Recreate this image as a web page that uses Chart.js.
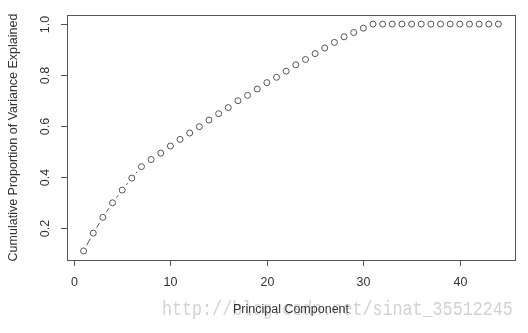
<!DOCTYPE html>
<html>
<head>
<meta charset="utf-8">
<script src="https://cdn.jsdelivr.net/npm/chart.js@4.4.1/dist/chart.umd.min.js"></script>
<style>
  html, body { margin: 0; padding: 0; background: #fff; }
  #wrap { position: relative; width: 528px; height: 333px; }
</style>
</head>
<body>
<div id="wrap"><canvas id="chart" width="528" height="333"></canvas></div>
<script>
// Cumulative proportion of variance explained by each principal component (R base-graphics look)
const components = [];
for (let i = 1; i <= 44; i++) components.push(i);

const cumVar = [
    0.109, 0.179, 0.241, 0.298, 0.348, 0.395, 0.440, 0.468, 0.493, 0.521,
    0.547, 0.572, 0.597, 0.623, 0.648, 0.672, 0.699, 0.720, 0.745, 0.770,
    0.791, 0.815, 0.840, 0.861, 0.884, 0.906, 0.928, 0.950, 0.967, 0.984,
    1.000, 1.000, 1.000, 1.000, 1.000, 1.000, 1.000, 1.000, 1.000, 1.000,
    1.000, 1.000, 1.000, 1.000
];

const xTicks = [0, 10, 20, 30, 40];
const yTicks = [0.2, 0.4, 0.6, 0.8, 1.0];
const yTickLabels = ['0.2', '0.4', '0.6', '0.8', '1.0'];

const FONT = '"Liberation Sans", Arial, sans-serif';
const INK = '#333';
const BOX = '#555';

// R style: segments between points with a gap around each point (type = "b")
const gappedLines = {
    id: 'gappedLines',
    afterDatasetsDraw: function (chart) {
        const ctx = chart.ctx;
        const pts = chart.getDatasetMeta(0).data;
        const gap = 6.5;
        ctx.save();
        ctx.strokeStyle = BOX;
        ctx.lineWidth = 1;
        for (let i = 0; i < pts.length - 1; i++) {
            const a = pts[i], b = pts[i + 1];
            const dx = b.x - a.x, dy = b.y - a.y;
            const d = Math.sqrt(dx * dx + dy * dy);
            if (d <= 2 * gap) continue;
            const ux = dx / d, uy = dy / d;
            ctx.beginPath();
            ctx.moveTo(a.x + ux * gap, a.y + uy * gap);
            ctx.lineTo(b.x - ux * gap, b.y - uy * gap);
            ctx.stroke();
        }
        ctx.restore();
    }
};

// box, tick marks, tick labels, axis titles and the watermark
const rAxes = {
    id: 'rAxes',
    beforeDatasetsDraw: function (chart) {
        const ctx = chart.ctx;
        // watermark sits behind everything
        ctx.save();
        ctx.fillStyle = '#d2d2d2';
        ctx.font = '20px "Liberation Mono", "DejaVu Sans Mono", monospace';
        ctx.textBaseline = 'middle';
        ctx.textAlign = 'left';
        ctx.translate(162, 310);
        ctx.scale(0.835, 1);
        ctx.fillText('http://blog.csdn.net/sinat_35512245', 0, 0);
        ctx.restore();
    },
    afterDraw: function (chart) {
        const ctx = chart.ctx;
        const a = chart.chartArea;
        const xs = chart.scales.x, ys = chart.scales.y;
        ctx.save();
        ctx.strokeStyle = BOX;
        ctx.lineWidth = 1;
        ctx.strokeRect(Math.round(a.left) + 0.5, Math.round(a.top) + 0.5,
            Math.round(a.right - a.left), Math.round(a.bottom - a.top));

        ctx.font = '12.5px ' + FONT;
        ctx.fillStyle = INK;

        // x axis
        ctx.textAlign = 'center';
        ctx.textBaseline = 'middle';
        xTicks.forEach(function (v) {
            const px = Math.round(xs.getPixelForValue(v)) + 0.5;
            ctx.beginPath();
            ctx.moveTo(px, a.bottom);
            ctx.lineTo(px, a.bottom + 6);
            ctx.stroke();
            ctx.fillText(String(v), px, a.bottom + 23);
        });

        // y axis, labels read bottom to top
        yTicks.forEach(function (v, i) {
            const py = Math.round(ys.getPixelForValue(v)) + 0.5;
            ctx.beginPath();
            ctx.moveTo(a.left, py);
            ctx.lineTo(a.left - 6, py);
            ctx.stroke();
            ctx.save();
            ctx.translate(a.left - 21, py);
            ctx.rotate(-Math.PI / 2);
            ctx.fillText(yTickLabels[i], 0, 0);
            ctx.restore();
        });

        // titles
        ctx.fillText('Principal Component', (a.left + a.right) / 2, 310);
        ctx.save();
        ctx.translate(13.5, (a.top + a.bottom) / 2);
        ctx.rotate(-Math.PI / 2);
        ctx.fillText('Cumulative Proportion of Variance Explained', 0, 0);
        ctx.restore();
        ctx.restore();
    }
};

const yMin = 0.109 - 0.891 * 0.04;
const yMax = 1.0 + 0.891 * 0.04;

new Chart(document.getElementById('chart').getContext('2d'), {
    type: 'scatter',
    data: {
        datasets: [{
            data: components.map(function (c, i) { return { x: c, y: cumVar[i] }; }),
            pointStyle: 'circle',
            pointRadius: 3,
            pointBorderWidth: 1,
            pointBorderColor: BOX,
            pointBackgroundColor: 'rgba(0,0,0,0)',
            showLine: false
        }]
    },
    options: {
        responsive: false,
        animation: false,
        events: [],
        layout: { padding: { top: 15, right: 13, left: 0, bottom: 0 } },
        plugins: { legend: { display: false }, tooltip: { enabled: false } },
        scales: {
            x: {
                type: 'linear',
                min: -0.72,
                max: 45.72,
                grid: { display: false },
                border: { display: false },
                ticks: { display: false },
                afterBuildTicks: function (s) { s.ticks = xTicks.map(function (v) { return { value: v }; }); },
                afterFit: function (s) { s.height = 73; }
            },
            y: {
                type: 'linear',
                min: yMin,
                max: yMax,
                grid: { display: false },
                border: { display: false },
                ticks: { display: false },
                afterBuildTicks: function (s) { s.ticks = yTicks.map(function (v) { return { value: v }; }); },
                afterFit: function (s) { s.width = 67; }
            }
        }
    },
    plugins: [rAxes, gappedLines]
});
</script>
</body>
</html>
